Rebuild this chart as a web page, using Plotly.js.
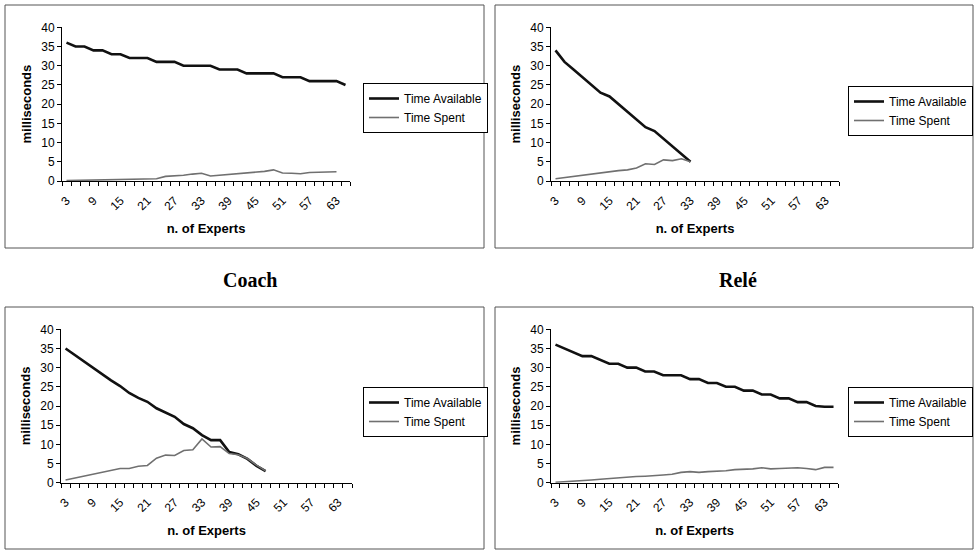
<!DOCTYPE html>
<html><head><meta charset="utf-8">
<script src="https://cdn.plot.ly/plotly-3.0.1.min.js"></script>
<style>html,body{margin:0;padding:0;background:#fff}#chart{width:975px;height:552px}</style>
</head><body><div id="chart"></div>
<script>
// ---- data ----
const experts = [3,5,7,9,11,13,15,17,19,21,23,25,27,29,31,33,35,37,39,41,43,45,47,49,51,53,55,57,59,61,63,65];
const xTickLabels = ['3','9','15','21','27','33','39','45','51','57','63'];
const yTickValues = [0,5,10,15,20,25,30,35,40];
const seriesNames = ['Time Available','Time Spent'];
const panelCaptions = ['Coach','Relé'];

const coachAvailable = [36,35,35,34,34,33,33,32,32,32,31,31,31,30,30,30,30,29,29,29,28,28,28,28,27,27,27,26,26,26,26,25];
const coachSpent = [0.1,0.15,0.2,0.2,0.25,0.3,0.35,0.4,0.45,0.5,0.6,1.2,1.3,1.5,1.8,2.0,1.3,1.5,1.7,1.9,2.1,2.3,2.5,2.9,2.1,2.0,1.9,2.2,2.3,2.3,2.4];

const releAvailable = [34,31,29,27,25,23,22,20,18,16,14,13,11,9,7,5];
const releSpent = [0.6,0.9,1.2,1.5,1.9,2.2,2.5,2.7,2.9,3.4,4.5,4.3,5.5,5.3,5.8,5.0];

const panel3Available = [35,33.3,31.6,30,28.3,26.7,25.2,23.4,22.1,21.1,19.4,18.3,17.2,15.3,14.2,12.4,11.1,11.1,8.0,7.4,6.2,4.4,3.0];
const panel3Spent = [0.7,1.2,1.7,2.2,2.7,3.2,3.7,3.7,4.3,4.5,6.4,7.2,7.1,8.4,8.6,11.4,9.3,9.4,7.6,7.3,6.3,4.6,3.1];

const panel4Available = [36,35,34,33,33,32,31,31,30,30,29,29,28,28,28,27,27,26,26,25,25,24,24,23,23,22,22,21,21,20,19.8,19.8];
const panel4Spent = [0.1,0.2,0.4,0.6,0.7,0.9,1.1,1.3,1.4,1.6,1.7,1.8,2.0,2.2,2.7,2.9,2.7,2.9,3.0,3.1,3.4,3.5,3.6,3.9,3.6,3.7,3.8,3.9,3.7,3.4,4.0,4.0];

const panelSeries = [
  [coachAvailable, coachSpent],
  [releAvailable, releSpent],
  [panel3Available, panel3Spent],
  [panel4Available, panel4Spent]
];

// ---- layout geometry (pixels) ----
const W = 975, H = 552;
const px = v => v / W, py = v => 1 - v / H;
const plots = [
  {x0:62,  x1:350, yTop:27.3,  yBot:181,   leg:[363,83],  box:[5,5,484,248]},
  {x0:551, x1:839, yTop:27.3,  yBot:181,   leg:[848,86],  box:[495,5,973,248]},
  {x0:61,  x1:352, yTop:329.3, yBot:482.7, leg:[363,387], box:[5,307,484,549]},
  {x0:551, x1:838, yTop:329.3, yBot:482.7, leg:[848,387], box:[495,307,973,549]}
];

const FONT = 'Liberation Sans, Arial, sans-serif';
const traces = [];
const layout = {
  width: W, height: H,
  margin: {l:0, r:0, t:0, b:0},
  paper_bgcolor: '#fff', plot_bgcolor: 'rgba(0,0,0,0)',
  font: {family: FONT, size: 12, color: '#000'},
  showlegend: true,
  shapes: [], annotations: []
};

plots.forEach((p, i) => {
  const n = i + 1;
  const xa = n === 1 ? 'xaxis' : 'xaxis' + n;
  const ya = n === 1 ? 'yaxis' : 'yaxis' + n;
  const xr = n === 1 ? 'x' : 'x' + n;
  const yr = n === 1 ? 'y' : 'y' + n;
  const lg = n === 1 ? 'legend' : 'legend' + n;
  const [avail, spent] = panelSeries[i];
  traces.push({
    type: 'scatter', mode: 'lines', name: seriesNames[0],
    x: experts.slice(0, avail.length), y: avail,
    xaxis: xr, yaxis: yr, legend: lg,
    line: {color: '#111', width: 2.6}, hoverinfo: 'x+y'
  });
  traces.push({
    type: 'scatter', mode: 'lines', name: seriesNames[1],
    x: experts.slice(0, spent.length), y: spent,
    xaxis: xr, yaxis: yr, legend: lg,
    line: {color: '#707070', width: 1.6}, hoverinfo: 'x+y'
  });
  layout[xa] = {
    domain: [px(p.x0), px(p.x1)], anchor: yr,
    range: [experts[0] - 1, experts[experts.length - 1] + 1],
    tickmode: 'array', tickvals: xTickLabels.map(Number), ticktext: xTickLabels,
    tickangle: -45, ticks: '', ticklabelstandoff: 7,
    tickfont: {family: FONT, size: 12},
    showline: true, linecolor: '#000', linewidth: 1,
    showgrid: false, zeroline: false,
    minor: {tick0: experts[0] - 1, dtick: 2, ticks: 'outside', ticklen: 4, tickcolor: '#000', tickwidth: 1, showgrid: false},
    title: {text: '<b>n. of Experts</b>', font: {family: FONT, size: 13}, standoff: 11},
    automargin: false, fixedrange: true
  };
  layout[ya] = {
    domain: [py(p.yBot), py(p.yTop)], anchor: xr,
    range: [0, 40], tickmode: 'array', tickvals: yTickValues,
    ticks: 'outside', ticklen: 4, tickcolor: '#000', tickwidth: 1,
    tickfont: {family: FONT, size: 12},
    showline: true, linecolor: '#000', linewidth: 1,
    showgrid: false, zeroline: false,
    title: {text: '<b>milliseconds</b>', font: {family: FONT, size: 13}, standoff: 6},
    automargin: false, fixedrange: true
  };
  layout[lg] = {
    x: px(p.leg[0]), y: py(p.leg[1]), xanchor: 'left', yanchor: 'top',
    bordercolor: '#000', borderwidth: 1, bgcolor: '#fff',
    font: {family: FONT, size: 12}, itemwidth: 30, tracegroupgap: 0
  };
  layout.shapes.push({
    type: 'rect', xref: 'paper', yref: 'paper',
    x0: px(p.box[0]), x1: px(p.box[2]), y0: py(p.box[3]), y1: py(p.box[1]),
    line: {color: '#555', width: 1}, fillcolor: 'rgba(0,0,0,0)', layer: 'below'
  });
});

layout.annotations.push(
  {text: '<b>' + panelCaptions[0] + '</b>', xref: 'paper', yref: 'paper', x: px(250), y: py(280),
   xanchor: 'center', yanchor: 'middle',
   showarrow: false, font: {family: 'Liberation Serif, Times New Roman, serif', size: 20}},
  {text: '<b>' + panelCaptions[1] + '</b>', xref: 'paper', yref: 'paper', x: px(738), y: py(280),
   xanchor: 'center', yanchor: 'middle',
   showarrow: false, font: {family: 'Liberation Serif, Times New Roman, serif', size: 20}}
);

Plotly.newPlot('chart', traces, layout, {displayModeBar: false, staticPlot: true});
</script>
</body></html>
